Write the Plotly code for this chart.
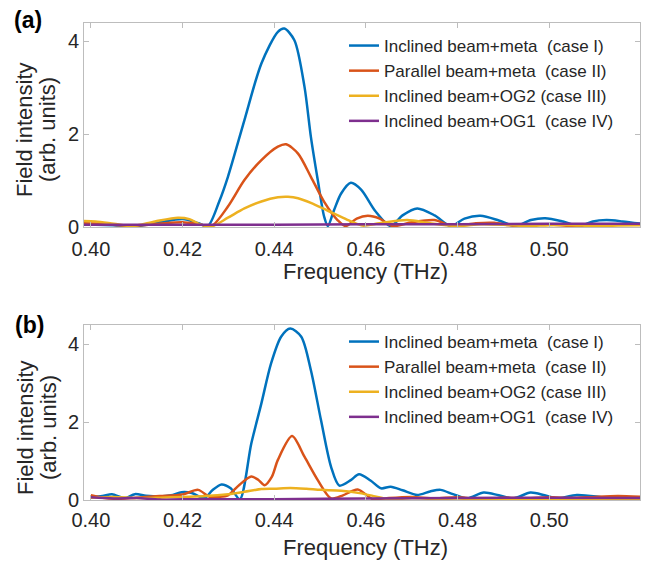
import plotly.graph_objects as go

# ---- data (frequency in THz, intensity in arb. units) ----
# panel (a)
xa_blue = [0.397, 0.401, 0.405, 0.410, 0.415, 0.420, 0.4235, 0.4255, 0.4280, 0.4299, 0.4335,
           0.4372, 0.4408, 0.4422, 0.4444, 0.4466, 0.4480, 0.4495, 0.4509, 0.4517, 0.4530,
           0.4546, 0.4567, 0.4590, 0.4620, 0.4654, 0.4680, 0.4712, 0.4750, 0.4785, 0.4815,
           0.4850, 0.4890, 0.4926, 0.4960, 0.4991, 0.5030, 0.5067, 0.5095, 0.5125, 0.5160, 0.5200]
ya_blue = [0.06, 0.05, 0.04, 0.02, 0.10, 0.17, 0.08, 0.02, 0.55, 1.08, 2.30,
           3.52, 4.20, 4.27, 4.02, 3.02, 1.94, 1.01, 0.22, 0.02, 0.35,
           0.72, 0.95, 0.80, 0.35, 0.02, 0.25, 0.40, 0.25, 0.02, 0.18,
           0.24, 0.14, 0.02, 0.15, 0.19, 0.12, 0.02, 0.12, 0.15, 0.12, 0.07]

xa_orange = [0.397, 0.402, 0.406, 0.410, 0.415, 0.420, 0.4235, 0.4263, 0.4299, 0.4335, 0.4372,
             0.4408, 0.4426, 0.4452, 0.4480, 0.4509, 0.4538, 0.4556, 0.4580, 0.4604, 0.4630,
             0.4658, 0.4700, 0.4749, 0.4790, 0.4840, 0.4880, 0.4920, 0.4970, 0.5010, 0.5050,
             0.5100, 0.5150, 0.5200]
ya_orange = [0.08, 0.07, 0.04, 0.03, 0.07, 0.10, 0.06, 0.02, 0.44, 1.01, 1.44,
             1.73, 1.78, 1.58, 1.08, 0.54, 0.15, 0.02, 0.18, 0.24, 0.18,
             0.02, 0.10, 0.15, 0.02, 0.08, 0.09, 0.03, 0.06, 0.05, 0.02,
             0.05, 0.06, 0.05]

xa_yellow = [0.397, 0.401, 0.405, 0.409, 0.414, 0.419, 0.4215, 0.4240, 0.4263, 0.4299, 0.4335,
             0.4372, 0.4408, 0.4430, 0.4452, 0.4480, 0.4517, 0.4546, 0.4570, 0.4593, 0.4630,
             0.4690, 0.4740, 0.4800, 0.4850, 0.4900, 0.4950, 0.5000, 0.5050, 0.5100, 0.5150, 0.5200]
ya_yellow = [0.13, 0.12, 0.07, 0.02, 0.12, 0.20, 0.17, 0.05, 0.01, 0.20, 0.40,
             0.55, 0.64, 0.65, 0.62, 0.52, 0.35, 0.22, 0.11, 0.03, 0.08,
             0.15, 0.08, 0.02, 0.06, 0.05, 0.02, 0.04, 0.04, 0.02, 0.03, 0.04]

xa_purple = [0.397, 0.420, 0.440, 0.460, 0.480, 0.500, 0.520]
ya_purple = [0.05, 0.05, 0.05, 0.06, 0.06, 0.07, 0.07]

# panel (b)
xb_blue = [0.400, 0.4025, 0.4046, 0.4074, 0.4096, 0.4120, 0.4150, 0.4175, 0.4198, 0.4220, 0.4248,
           0.4265, 0.4285, 0.4305, 0.4325, 0.4350, 0.4372, 0.4393, 0.4415, 0.4435, 0.4459,
           0.4480, 0.4502, 0.4524, 0.4542, 0.4567, 0.4585, 0.4610, 0.4633, 0.4654, 0.4680,
           0.4712, 0.4740, 0.4763, 0.4790, 0.4821, 0.4857, 0.4890, 0.4922, 0.4959, 0.4990,
           0.5017, 0.5060, 0.5111, 0.5154, 0.5198]
yb_blue = [0.08, 0.10, 0.15, 0.05, 0.15, 0.11, 0.09, 0.12, 0.20, 0.18, 0.05,
           0.25, 0.40, 0.30, 0.02, 1.45, 2.48, 3.50, 4.19, 4.40, 4.19,
           3.33, 2.05, 0.85, 0.37, 0.51, 0.66, 0.50, 0.30, 0.34, 0.25,
           0.13, 0.22, 0.26, 0.15, 0.04, 0.19, 0.12, 0.04, 0.19, 0.12,
           0.04, 0.13, 0.08, 0.01, 0.04]

xb_orange = [0.400, 0.4030, 0.4060, 0.4100, 0.4150, 0.4200, 0.4234, 0.4259, 0.4280, 0.4299, 0.4325,
             0.4350, 0.4365, 0.4379, 0.4395, 0.4408, 0.4439, 0.4466, 0.4495, 0.4524, 0.4550,
             0.4582, 0.4617, 0.4650, 0.4700, 0.4750, 0.4800, 0.4850, 0.4900, 0.4950, 0.5000,
             0.5050, 0.5100, 0.5150, 0.5200]
yb_orange = [0.12, 0.05, 0.03, 0.06, 0.10, 0.14, 0.26, 0.08, 0.08, 0.12, 0.40,
             0.60, 0.52, 0.38, 0.60, 1.03, 1.64, 1.11, 0.51, 0.04, 0.12,
             0.27, 0.01, 0.05, 0.08, 0.04, 0.07, 0.02, 0.06, 0.04, 0.07,
             0.05, 0.08, 0.10, 0.08]

xb_yellow = [0.400, 0.405, 0.410, 0.415, 0.420, 0.425, 0.430, 0.4335, 0.4372, 0.4400, 0.4435,
             0.4470, 0.4502, 0.4546, 0.4590, 0.4617, 0.4650, 0.4700, 0.4750, 0.4800, 0.4850,
             0.4900, 0.5000, 0.5100, 0.5200]
yb_yellow = [0.06, 0.08, 0.05, 0.06, 0.08, 0.10, 0.15, 0.21, 0.28, 0.29, 0.31,
             0.29, 0.26, 0.24, 0.17, 0.10, 0.02, 0.05, 0.03, 0.04, 0.02,
             0.03, 0.03, 0.02, 0.03]

xb_purple = [0.400, 0.405, 0.410, 0.415, 0.420, 0.430, 0.440, 0.460, 0.480, 0.500, 0.520]
yb_purple = [0.07, 0.04, 0.05, 0.01, 0.02, 0.02, 0.02, 0.04, 0.05, 0.06, 0.05]

names = ['Inclined beam+meta  (case I)', 'Parallel beam+meta  (case II)',
         'Inclined beam+OG2 (case III)', 'Inclined beam+OG1  (case IV)']
colors = ['#0072BD', '#D95319', '#EDB120', '#7E2F8E']

xticks = [0.40, 0.42, 0.44, 0.46, 0.48, 0.50]
xticklabels = ['0.40', '0.42', '0.44', '0.46', '0.48', '0.50']

# the page body adds an 8px margin, so the figure is a bit smaller than the window
OFF = 8
W, H = 656 - OFF, 563 - OFF
FONT = 'Liberation Sans, Arial, sans-serif'

fig = go.Figure()

panel_a = [(xa_blue, ya_blue), (xa_orange, ya_orange), (xa_yellow, ya_yellow), (xa_purple, ya_purple)]
panel_b = [(xb_blue, yb_blue), (xb_orange, yb_orange), (xb_yellow, yb_yellow), (xb_purple, yb_purple)]

for i in range(4):
    x, y = panel_a[i]
    fig.add_trace(go.Scatter(x=x, y=y, mode='lines', name=names[i], legend='legend',
                             line=dict(color=colors[i], width=2.5, shape='spline', smoothing=0.8),
                             xaxis='x', yaxis='y'))
for i in range(4):
    x, y = panel_b[i]
    fig.add_trace(go.Scatter(x=x, y=y, mode='lines', name=names[i], legend='legend2',
                             line=dict(color=colors[i], width=2.5, shape='spline', smoothing=0.8),
                             xaxis='x2', yaxis='y2'))

axis_style = dict(showline=True, linecolor='#bdbdbd', linewidth=1, mirror='ticks',
                  ticks='inside', ticklen=5, tickcolor='#bdbdbd', showgrid=False, zeroline=False,
                  automargin=False,
                  tickfont=dict(family=FONT, size=20, color='#262626'))


# page pixel -> paper fraction
def px_x(p):
    return (p - OFF) / W


def px_y(p):
    return 1 - (p - OFF) / H


fig.update_layout(
    width=W, height=H,
    margin=dict(l=0, r=0, t=0, b=0),
    plot_bgcolor='white', paper_bgcolor='white',
    xaxis=dict(domain=[px_x(84), px_x(640)], range=[0.3985, 0.5198], anchor='y',
               tickvals=xticks, ticktext=xticklabels, ticklabelstandoff=4, **axis_style),
    yaxis=dict(domain=[px_y(227), px_y(23)], range=[0, 4.39], anchor='x',
               tickvals=[0, 2, 4], **axis_style),
    xaxis2=dict(domain=[px_x(84), px_x(640)], range=[0.3985, 0.5198], anchor='y2',
                tickvals=xticks, ticktext=xticklabels, ticklabelstandoff=2, **axis_style),
    yaxis2=dict(domain=[px_y(500), px_y(325)], range=[0, 4.49], anchor='x2',
                tickvals=[0, 2, 4], **axis_style),
    legend=dict(x=px_x(344), y=px_y(28), xanchor='left', yanchor='top',
                bgcolor='rgba(0,0,0,0)', font=dict(family=FONT, size=17, color='#262626')),
    legend2=dict(x=px_x(344), y=px_y(324), xanchor='left', yanchor='top',
                 bgcolor='rgba(0,0,0,0)', font=dict(family=FONT, size=17, color='#262626')),
)

# axis titles and panel labels (explicit anchors so positions are centres)
def label(text, xc, yc, size, color='#262626', angle=0):
    return dict(text=text, x=px_x(xc), y=px_y(yc), xref='paper', yref='paper',
                xanchor='center', yanchor='middle', textangle=angle, showarrow=False,
                font=dict(family=FONT, size=size, color=color))


ann = []
for yc in [271, 547]:
    ann.append(label('Frequency (THz)', 365, yc, 22))
for yc in [130, 428]:
    ann.append(label('Field intensity', 25, yc, 22, angle=-90))
    ann.append(label('(arb. units)', 48, yc, 22, angle=-90))
ann.append(label('<b>(a)</b>', 28, 20, 23, color='black'))
ann.append(label('<b>(b)</b>', 29, 325, 23, color='black'))
fig.update_layout(annotations=ann)

fig.write_html("out.html")
